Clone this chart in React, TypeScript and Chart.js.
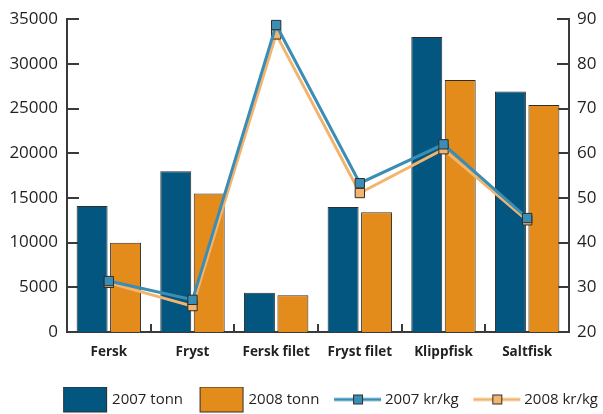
import React, { useEffect, useRef } from 'react';
import { Chart, registerables } from 'chart.js';

Chart.register(...registerables);

const categories = ['Fersk', 'Fryst', 'Fersk filet', 'Fryst filet', 'Klippfisk', 'Saltfisk'];
const tonn2007 = [14100, 18000, 4400, 14000, 33000, 26900];
const tonn2008 = [10000, 15500, 4100, 13400, 28200, 25400];
const krkg2007 = [31.4, 27.2, 88.7, 53.3, 62.0, 45.5];
const krkg2008 = [31.0, 25.8, 86.6, 51.1, 60.9, 45.0];
const seriesLabels = ['2007 tonn', '2008 tonn', '2007 kr/kg', '2008 kr/kg'];

const BLUE_BAR = '#02567f';
const ORANGE_BAR = '#e38b1b';
const BLUE_LINE = '#3a8db5';
const ORANGE_LINE = '#f3b46e';
const EDGE = '#2e2e2e';
const AXIS = '#3a3a3a';
const TEXT = '#231f20';
const FONT = '"Open Sans", "DejaVu Sans", sans-serif';

function barIcon(fill: string): HTMLCanvasElement {
  const c = document.createElement('canvas');
  c.width = 62;
  c.height = 28;
  const g = c.getContext('2d')!;
  g.fillStyle = fill;
  g.fillRect(16, 1, 44, 26);
  g.strokeStyle = EDGE;
  g.lineWidth = 1;
  g.strokeRect(16.5, 1.5, 43, 25);
  return c;
}

function lineIcon(color: string): HTMLCanvasElement {
  const c = document.createElement('canvas');
  c.width = 62;
  c.height = 28;
  const g = c.getContext('2d')!;
  g.strokeStyle = color;
  g.lineWidth = 3;
  g.beginPath();
  g.moveTo(14, 14);
  g.lineTo(61, 14);
  g.stroke();
  g.fillStyle = color;
  g.fillRect(33, 9, 10, 10);
  g.strokeStyle = EDGE;
  g.lineWidth = 1;
  g.strokeRect(33.5, 9.5, 9, 9);
  return c;
}

const insideTicks = {
  id: 'insideTicks',
  beforeDatasetsDraw(chart: any) {
    const { ctx, chartArea, scales } = chart;
    ctx.save();
    ctx.strokeStyle = AXIS;
    ctx.lineWidth = 2;
    const y = scales.y;
    y.ticks.forEach((_t: any, i: number) => {
      const py = Math.round(y.getPixelForTick(i));
      ctx.beginPath();
      ctx.moveTo(chartArea.left, py);
      ctx.lineTo(chartArea.left + 12, py);
      ctx.stroke();
    });
    const y2 = scales.y2;
    y2.ticks.forEach((_t: any, i: number) => {
      const py = Math.round(y2.getPixelForTick(i));
      ctx.beginPath();
      ctx.moveTo(chartArea.right, py);
      ctx.lineTo(chartArea.right - 12, py);
      ctx.stroke();
    });
    const x = scales.x;
    for (let i = 1; i < x.ticks.length; i++) {
      const px = Math.round((x.getPixelForTick(i - 1) + x.getPixelForTick(i)) / 2);
      ctx.beginPath();
      ctx.moveTo(px, chartArea.bottom);
      ctx.lineTo(px, chartArea.bottom - 8);
      ctx.stroke();
    }
    ctx.restore();
  },
};

export default function App() {
  const ref = useRef<HTMLCanvasElement | null>(null);

  useEffect(() => {
    if (!ref.current) return;
    const icons = [barIcon(BLUE_BAR), barIcon(ORANGE_BAR), lineIcon(BLUE_LINE), lineIcon(ORANGE_LINE)];
    const chart = new Chart(ref.current, {
      type: 'bar',
      data: {
        labels: categories,
        datasets: [
          {
            type: 'bar',
            label: seriesLabels[0],
            data: tonn2007,
            backgroundColor: BLUE_BAR,
            borderColor: EDGE,
            borderWidth: 1,
            yAxisID: 'y',
            order: 2,
            categoryPercentage: 0.8,
            barPercentage: 0.925,
          },
          {
            type: 'bar',
            label: seriesLabels[1],
            data: tonn2008,
            backgroundColor: ORANGE_BAR,
            borderColor: EDGE,
            borderWidth: 1,
            yAxisID: 'y',
            order: 3,
            categoryPercentage: 0.8,
            barPercentage: 0.925,
          },
          {
            type: 'line',
            label: seriesLabels[2],
            data: krkg2007,
            borderColor: BLUE_LINE,
            backgroundColor: BLUE_LINE,
            borderWidth: 3,
            pointStyle: 'rect',
            pointRadius: 6.6,
            pointBackgroundColor: BLUE_LINE,
            pointBorderColor: EDGE,
            pointBorderWidth: 1,
            yAxisID: 'y2',
            order: 0,
          },
          {
            type: 'line',
            label: seriesLabels[3],
            data: krkg2008,
            borderColor: ORANGE_LINE,
            backgroundColor: ORANGE_LINE,
            borderWidth: 3,
            pointStyle: 'rect',
            pointRadius: 6.6,
            pointBackgroundColor: ORANGE_LINE,
            pointBorderColor: EDGE,
            pointBorderWidth: 1,
            yAxisID: 'y2',
            order: 1,
          },
        ] as any,
      },
      options: {
        animation: false,
        responsive: true,
        maintainAspectRatio: false,
        layout: { padding: { top: 19, left: 0, right: 0, bottom: -3 } },
        plugins: {
          tooltip: { enabled: false },
          legend: {
            position: 'bottom',
            align: 'end',
            labels: {
              usePointStyle: true,
              pointStyleWidth: 53,
              padding: 5,
              color: TEXT,
              font: { family: FONT, size: 15 },
              generateLabels: (ch: any) =>
                ch.data.datasets.map((ds: any, i: number) => ({
                  text: ds.label,
                  pointStyle: icons[i],
                  datasetIndex: i,
                  hidden: false,
                  fontColor: TEXT,
                  lineWidth: 0,
                  strokeStyle: 'rgba(0,0,0,0)',
                  fillStyle: 'rgba(0,0,0,0)',
                })),
            },
          },
        },
        scales: {
          x: {
            grid: { display: false, drawTicks: false },
            border: { display: true, color: AXIS, width: 2 },
            ticks: { color: TEXT, padding: 12, font: { family: FONT, size: 13.5, weight: 'bold' }, maxRotation: 0 },
            afterFit: (s: any) => { s.height = 55; },
          },
          y: {
            position: 'left',
            min: 0,
            max: 35000,
            grid: { display: false, drawTicks: false },
            border: { display: true, color: AXIS, width: 2 },
            ticks: {
              stepSize: 5000,
              color: TEXT,
              padding: 9,
              font: { family: FONT, size: 17 },
              callback: (v: any) => String(v),
            },
            afterFit: (s: any) => { s.width = 67; },
          },
          y2: {
            position: 'right',
            min: 20,
            max: 90,
            grid: { display: false, drawTicks: false },
            border: { display: true, color: AXIS, width: 2 },
            ticks: {
              stepSize: 10,
              color: TEXT,
              padding: 8,
              font: { family: FONT, size: 17 },
              callback: (v: any) => String(v),
            },
            afterFit: (s: any) => { s.width = 34; },
          },
        },
      } as any,
      plugins: [insideTicks],
    });
    return () => chart.destroy();
  }, []);

  return (
    <div style={{ position: 'absolute', left: 0, top: 0, width: 603, height: 414, background: '#fff' }}>
      <canvas ref={ref} />
    </div>
  );
}
